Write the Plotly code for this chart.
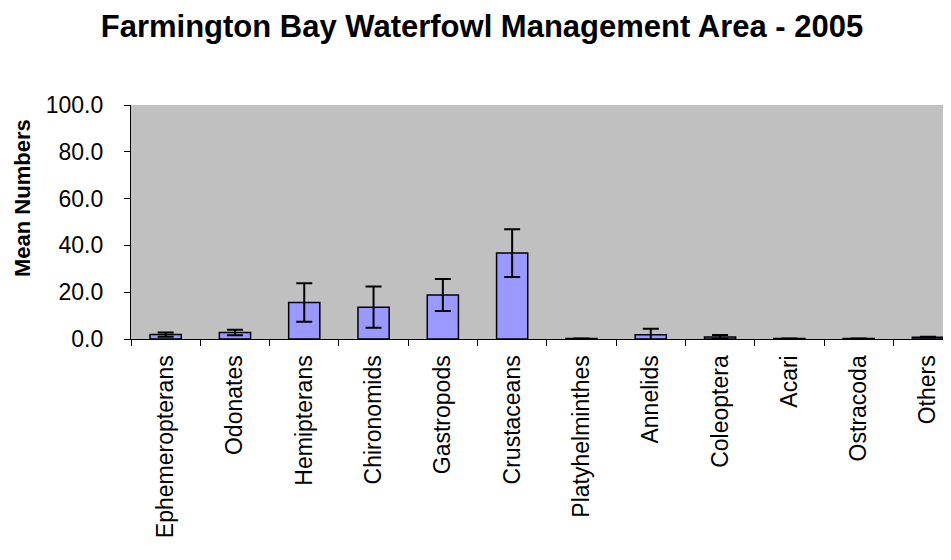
import plotly.graph_objects as go

categories = ["Ephemeropterans", "Odonates", "Hemipterans", "Chironomids", "Gastropods",
              "Crustaceans", "Platyhelminthes", "Annelids", "Coleoptera", "Acari",
              "Ostracoda", "Others"]
mean_numbers = [1.9, 2.8, 15.6, 13.6, 18.8, 36.7, 0.2, 1.8, 0.9, 0.2, 0.2, 0.8]
std_error = [0.9, 1.2, 8.2, 8.8, 6.8, 10.2, 0.0, 2.6, 0.8, 0.0, 0.0, 0.2]
y_ticks = [0, 20, 40, 60, 80, 100]

# page body has an 8px margin; figure sized so it fits the 951x560 window
OFF = 8
W, H = 951 - OFF, 560 - OFF
L, T = 131 - OFF, 105 - OFF
B = H - (339 - OFF)
R = 0
cat_px = 69.3
plot_w = W - L - R
plot_h = H - T - B

fig = go.Figure()
fig.add_trace(go.Bar(
    x=categories, y=mean_numbers, width=0.45,
    marker=dict(color="#9999FF", line=dict(color="#000000", width=1.5)),
    error_y=dict(type="data", array=std_error, visible=True,
                 color="#000000", thickness=2, width=8),
))

font_family = "Liberation Sans, Arial, sans-serif"
fig.update_layout(
    width=W, height=H,
    margin=dict(l=L, r=R, t=T, b=B, pad=0),
    paper_bgcolor="white", plot_bgcolor="#C0C0C0",
    showlegend=False,
    font=dict(family=font_family, color="black", size=23),
    title=dict(text="<b>Farmington Bay Waterfowl Management Area - 2005</b>",
               x=(482 - OFF) / W, xanchor="center", y=1 - (26 - OFF) / H, yanchor="middle",
               font=dict(size=31, family=font_family, color="black")),
)
fig.update_xaxes(
    type="category", range=[-0.5, -0.5 + plot_w / cat_px],
    tickson="boundaries", ticks="outside", ticklen=6, tickcolor="black", tickwidth=1,
    showline=True, linecolor="black", linewidth=1.2, showgrid=False,
    tickangle=-90, tickfont=dict(size=23, family=font_family), zeroline=False,
    ticklabelstandoff=6,
)
fig.update_yaxes(
    range=[0, 100], tickvals=y_ticks, tickformat=".1f",
    ticks="outside", ticklen=6, tickcolor="black", tickwidth=1,
    showline=True, linecolor="black", linewidth=1.2, showgrid=False, zeroline=False,
    tickfont=dict(size=23, family=font_family), ticklabelstandoff=16,
)
fig.add_annotation(
    text="<b>Mean Numbers</b>", textangle=-90, showarrow=False,
    xref="paper", yref="paper",
    x=(22 - 131) / plot_w, y=(339 - 198) / (339 - 105),
    xanchor="center", yanchor="middle",
    font=dict(size=22, family=font_family, color="black"),
)
fig.write_html("out.html")
